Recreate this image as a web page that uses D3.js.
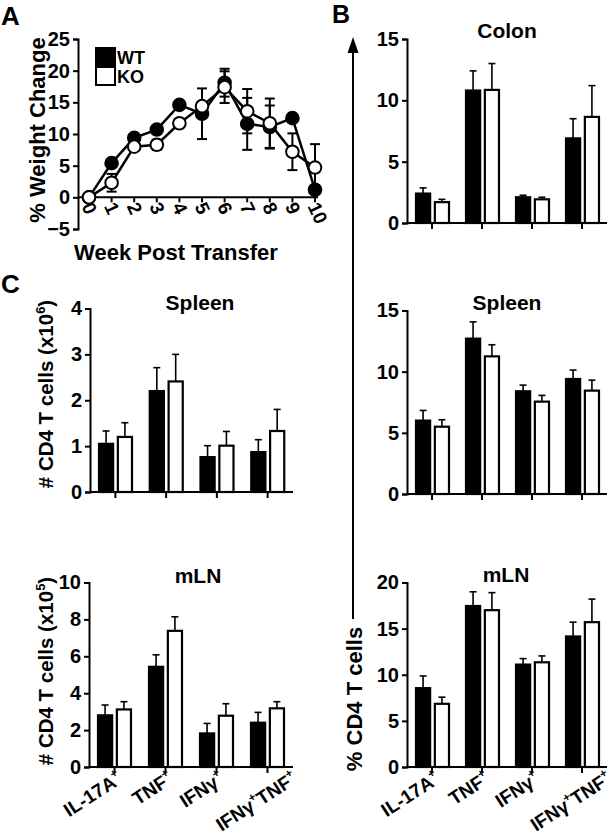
<!DOCTYPE html>
<html>
<head>
<meta charset="utf-8">
<script src="https://cdn.jsdelivr.net/npm/d3@7/dist/d3.min.js"></script>
<style>
  html, body { margin: 0; padding: 0; background: #fff; }
  svg { display: block; font-family: "Liberation Sans", Arial, Helvetica, sans-serif; }
  text { font-weight: bold; fill: #000; }
</style>
</head>
<body>
<svg id="fig" width="615" height="835"></svg>
<script>
// ---------------- Panel A data ----------------
const weeks = [0, 1, 2, 3, 4, 5, 6, 7, 8, 9, 10];
const wtWeight = [0, 5.4, 9.4, 10.7, 14.6, 13.2, 18.1, 11.6, 11.1, 12.5, 1.2];
const wtWeightErr = [0, 0.5, 0.5, 0.5, 0.5, 4.0, 2.2, 4.1, 3.4, 0.5, 0.4];
const koWeight = [0, 2.3, 8.0, 8.3, 11.7, 14.4, 17.4, 13.6, 11.7, 7.2, 4.7];
const koWeightErr = [0, 1.4, 0.5, 0.8, 0.5, 0.5, 2.5, 3.5, 3.9, 2.9, 3.7];
const weightTicks = [-5, 0, 5, 10, 15, 20, 25];
const groups = ["WT", "KO"];

// ---------------- Bar panels data ----------------
const cytokines = ["IL-17A+", "TNF+", "IFNγ+", "IFNγ+TNF+"];

const colonWT = [2.4, 10.8, 2.1, 6.9];
const colonWTErr = [0.46, 1.6, 0.16, 1.6];
const colonKO = [1.7, 10.85, 1.93, 8.65];
const colonKOErr = [0.23, 2.15, 0.17, 2.55];
const colonTicks = [0, 5, 10, 15];

const spleenPctWT = [6.0, 12.7, 8.4, 9.4];
const spleenPctWTErr = [0.83, 1.37, 0.5, 0.73];
const spleenPctKO = [5.5, 11.25, 7.55, 8.45];
const spleenPctKOErr = [0.57, 0.95, 0.51, 0.86];
const spleenPctTicks = [0, 5, 10, 15];

const mlnPctWT = [8.55, 17.45, 11.1, 14.15];
const mlnPctWTErr = [1.32, 1.54, 0.65, 1.55];
const mlnPctKO = [6.85, 17.0, 11.35, 15.7];
const mlnPctKOErr = [0.72, 1.9, 0.69, 2.5];
const mlnPctTicks = [0, 5, 10, 15, 20];

const spleenNumWT = [1.05, 2.2, 0.76, 0.87];
const spleenNumWTErr = [0.28, 0.51, 0.25, 0.27];
const spleenNumKO = [1.2, 2.41, 1.01, 1.33];
const spleenNumKOErr = [0.31, 0.59, 0.31, 0.47];
const spleenNumTicks = [0, 1, 2, 3, 4];

const mlnNumWT = [2.8, 5.43, 1.82, 2.4];
const mlnNumWTErr = [0.56, 0.65, 0.54, 0.56];
const mlnNumKO = [3.12, 7.38, 2.78, 3.18];
const mlnNumKOErr = [0.42, 0.76, 0.65, 0.36];
const mlnNumTicks = [0, 2, 4, 6, 8, 10];

// ---------------- drawing ----------------
const svg = d3.select("#fig");
svg.append("rect").attr("width", 615).attr("height", 835).attr("fill", "#fff");

const TICK_FONT = 20;

function styleAxis(g) {
  g.selectAll(".domain").attr("stroke", "#000").attr("stroke-width", 2);
  g.selectAll(".tick line").attr("stroke", "#000").attr("stroke-width", 2);
  g.selectAll(".tick text").attr("font-size", TICK_FONT).attr("font-weight", "bold")
    .attr("fill", "#000").attr("font-family", "Liberation Sans, Arial, sans-serif");
}

// superscript "+" helper
function writeLabel(sel, str, size) {
  const parts = str.split(/(\+)/).filter(s => s.length);
  let sup = false;
  parts.forEach(p => {
    if (p === "+") {
      sel.append("tspan").attr("dy", -size * 0.45).attr("font-size", size * 0.62).text("+");
      sup = true;
    } else {
      const t = sel.append("tspan").attr("font-size", size).text(p);
      if (sup) { t.attr("dy", size * 0.45); sup = false; }
    }
  });
}

// Panel letters
svg.append("text").attr("x", 1).attr("y", 25).attr("font-size", 26).text("A");
svg.append("text").attr("x", 332).attr("y", 23).attr("font-size", 25).text("B");
svg.append("text").attr("x", 1).attr("y", 293).attr("font-size", 26).text("C");

// ---------------- Panel A ----------------
(function () {
  const xA = d3.scaleLinear().domain([0, 10]).range([89, 315]);
  const yA = d3.scaleLinear().domain([-5, 25]).range([229, 39]);
  const axisX = 78;
  const g = svg.append("g");

  g.append("g").attr("transform", `translate(${axisX},0)`)
    .call(d3.axisLeft(yA).tickValues(weightTicks).tickFormat(d3.format("d")).tickSize(5).tickPadding(3))
    .call(styleAxis);

  // x axis at y = 0
  const gx = g.append("g").attr("transform", `translate(0,${yA(0)})`);
  gx.append("line").attr("x1", axisX).attr("x2", 318).attr("stroke", "#000").attr("stroke-width", 2);
  gx.selectAll("line.t").data(weeks).join("line").attr("class", "t")
    .attr("x1", d => xA(d)).attr("x2", d => xA(d)).attr("y1", 0).attr("y2", 5)
    .attr("stroke", "#000").attr("stroke-width", 2);
  gx.selectAll("text").data(weeks).join("text")
    .attr("transform", d => `translate(${xA(d) - 6},8) rotate(65)`)
    .attr("text-anchor", "start").attr("dy", "0.1em")
    .attr("font-size", 19).text(d => d);

  const series = [
    { name: "WT", vals: wtWeight, err: wtWeightErr, fill: "#000" },
    { name: "KO", vals: koWeight, err: koWeightErr, fill: "#fff" }
  ];

  // error bars
  series.forEach(s => {
    const eg = g.append("g");
    weeks.forEach((w, i) => {
      if (s.err[i] <= 0) return;
      const lo = yA(s.vals[i] - s.err[i]), hi = yA(s.vals[i] + s.err[i]);
      eg.append("line").attr("x1", xA(w)).attr("x2", xA(w)).attr("y1", lo).attr("y2", hi)
        .attr("stroke", "#000").attr("stroke-width", 2);
      [lo, hi].forEach(yy => eg.append("line").attr("x1", xA(w) - 5).attr("x2", xA(w) + 5)
        .attr("y1", yy).attr("y2", yy).attr("stroke", "#000").attr("stroke-width", 2));
    });
  });

  const line = d3.line().x((d, i) => xA(weeks[i])).y(d => yA(d));
  series.forEach(s => {
    g.append("path").datum(s.vals).attr("d", line).attr("fill", "none")
      .attr("stroke", "#000").attr("stroke-width", 2.5);
  });
  series.forEach(s => {
    g.append("g").selectAll("circle").data(s.vals).join("circle")
      .attr("cx", (d, i) => xA(weeks[i])).attr("cy", d => yA(d)).attr("r", 6.3)
      .attr("fill", s.fill).attr("stroke", "#000").attr("stroke-width", 2);
  });

  // legend
  const lg = g.append("g");
  groups.forEach((name, i) => {
    lg.append("rect").attr("x", 96).attr("y", 48 + i * 19).attr("width", 19).attr("height", 18)
      .attr("fill", i === 0 ? "#000" : "#fff").attr("stroke", "#000").attr("stroke-width", 2);
    lg.append("text").attr("x", 117).attr("y", 64 + i * 19).attr("font-size", 18).text(name);
  });

  // axis titles
  g.append("text").attr("transform", "translate(45,130) rotate(-90)")
    .attr("text-anchor", "middle").attr("font-size", 22).text("% Weight Change");
  g.append("text").attr("x", 176).attr("y", 260).attr("text-anchor", "middle")
    .attr("font-size", 22).text("Week Post Transfer");
})();

// ---------------- Bar panel helper ----------------
function barPanel(o) {
  const g = svg.append("g");
  const x = d3.scaleBand().domain(cytokines).range([o.x0, o.x1]).paddingInner(0).paddingOuter(0);
  const sub = d3.scaleBand().domain(groups).range([9, 42]).paddingInner(0.25);
  const y = d3.scaleLinear().domain([0, o.max]).range([o.y0, o.yTop]);

  g.append("g").attr("transform", `translate(${o.x0},0)`)
    .call(d3.axisLeft(y).tickValues(o.ticks).tickFormat(d3.format("d")).tickSize(5).tickPadding(3))
    .call(styleAxis);

  const gx = g.append("g").attr("transform", `translate(0,${o.y0})`);
  gx.append("line").attr("x1", o.x0).attr("x2", o.x1).attr("stroke", "#000").attr("stroke-width", 2);
  gx.selectAll("line.t").data(cytokines).join("line").attr("class", "t")
    .attr("x1", d => x(d) + x.bandwidth() / 2).attr("x2", d => x(d) + x.bandwidth() / 2)
    .attr("y1", 0).attr("y2", 6).attr("stroke", "#000").attr("stroke-width", 2);

  const sets = [
    { name: "WT", vals: o.wt, err: o.wtErr, fill: "#000" },
    { name: "KO", vals: o.ko, err: o.koErr, fill: "#fff" }
  ];
  sets.forEach(s => {
    const sg = g.append("g");
    cytokines.forEach((c, i) => {
      const bx = x(c) + sub(s.name), bw = sub.bandwidth();
      const cx = bx + bw / 2;
      const top = y(s.vals[i]), et = y(s.vals[i] + s.err[i]);
      sg.append("line").attr("x1", cx).attr("x2", cx).attr("y1", top).attr("y2", et)
        .attr("stroke", "#000").attr("stroke-width", 1.6);
      sg.append("line").attr("x1", cx - 3.5).attr("x2", cx + 3.5).attr("y1", et).attr("y2", et)
        .attr("stroke", "#000").attr("stroke-width", 1.6);
      sg.append("rect").attr("x", bx).attr("y", top).attr("width", bw).attr("height", o.y0 - top)
        .attr("fill", s.fill).attr("stroke", "#000").attr("stroke-width", 2.2);
    });
  });

  g.append("text").attr("x", o.titleX).attr("y", o.titleY).attr("text-anchor", "middle")
    .attr("font-size", 21).text(o.title);

  if (o.labels) {
    const n = cytokines.length;
    gx.selectAll("text.xl").data(cytokines).join("text").attr("class", "xl")
      .attr("transform", (d, i) => `translate(${x(d) + x.bandwidth() / 2 + 9 + (i === n - 1 ? 22 : 0)},${15}) rotate(-33)`)
      .attr("text-anchor", "end")
      .each(function (d) { writeLabel(d3.select(this), d, 19); });
  }
  return g;
}

// Panel B
barPanel({ x0: 407, x1: 607, y0: 223, yTop: 39, max: 15, ticks: colonTicks,
  wt: colonWT, wtErr: colonWTErr, ko: colonKO, koErr: colonKOErr,
  title: "Colon", titleX: 507, titleY: 38, labels: false });
barPanel({ x0: 407, x1: 607, y0: 494, yTop: 310.5, max: 15, ticks: spleenPctTicks,
  wt: spleenPctWT, wtErr: spleenPctWTErr, ko: spleenPctKO, koErr: spleenPctKOErr,
  title: "Spleen", titleX: 507, titleY: 310, labels: false });
barPanel({ x0: 407, x1: 607, y0: 767, yTop: 582.5, max: 20, ticks: mlnPctTicks,
  wt: mlnPctWT, wtErr: mlnPctWTErr, ko: mlnPctKO, koErr: mlnPctKOErr,
  title: "mLN", titleX: 506, titleY: 582, labels: true });

// Panel C
barPanel({ x0: 90, x1: 293, y0: 492, yTop: 308.5, max: 4, ticks: spleenNumTicks,
  wt: spleenNumWT, wtErr: spleenNumWTErr, ko: spleenNumKO, koErr: spleenNumKOErr,
  title: "Spleen", titleX: 200, titleY: 310, labels: false });
barPanel({ x0: 89, x1: 293, y0: 767, yTop: 582.5, max: 10, ticks: mlnNumTicks,
  wt: mlnNumWT, wtErr: mlnNumWTErr, ko: mlnNumKO, koErr: mlnNumKOErr,
  title: "mLN", titleX: 198, titleY: 583, labels: true });

// Panel C y titles (with superscript exponent)
function expLabel(cx, cy, base, exp) {
  const t = svg.append("text").attr("transform", `translate(${cx},${cy}) rotate(-90)`)
    .attr("text-anchor", "middle").attr("font-size", 20.5);
  t.append("tspan").text(base);
  t.append("tspan").attr("dy", -8).attr("font-size", 13).text(exp);
  t.append("tspan").attr("dy", 8).text(")");
}
expLabel(53, 394, "# CD4 T cells (x10", "6");
expLabel(53, 671, "# CD4 T cells (x10", "5");

// Panel B shared y title with arrow
svg.append("line").attr("x1", 353).attr("x2", 353).attr("y1", 619).attr("y2", 50)
  .attr("stroke", "#000").attr("stroke-width", 2);
svg.append("path").attr("d", "M353,37 L347.5,53 L358.5,53 Z").attr("fill", "#000");
svg.append("text").attr("transform", "translate(362,699) rotate(-90)")
  .attr("text-anchor", "middle").attr("font-size", 22).text("% CD4 T cells");
</script>
</body>
</html>
